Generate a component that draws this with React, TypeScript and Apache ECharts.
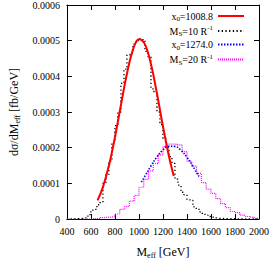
import React, { useEffect, useRef } from 'react';
import * as echarts from 'echarts';

// ---- data ----
const xTicks = [400, 600, 800, 1000, 1200, 1400, 1600, 1800, 2000];
const yTicks = [0, 0.0001, 0.0002, 0.0003, 0.0004, 0.0005, 0.0006];

// black histogram (M_S = 10 R^-1), 25 GeV bins from 400
const blackBinStart = 400;
const blackBinWidth = 25;
const blackHist = [
  0, 0, 0, 0.000001, 0.000001, 0.000002, 0.000003, 0.000012,
  0.000025, 0.000027, 0.00004, 0.000046, 0.0001, 0.000125, 0.000162, 0.000215,
  0.000262, 0.0003, 0.00038, 0.00042, 0.00046, 0.000465, 0.00049, 0.0005,
  0.000505, 0.000503, 0.00047, 0.000455, 0.000365, 0.000355, 0.0003, 0.000265,
  0.000225, 0.0002, 0.000175, 0.000156, 0.000112, 0.000095, 0.000075, 0.000068,
  0.000055, 0.000052, 0.000034, 0.00003, 0.00002, 0.000016, 0.000011, 0.000007,
  0.000005, 0.000003, 0.000002, 0.000002, 0.000001, 0.000001, 0.000001, 0.000001,
  0, 0, 0, 0, 0, 0, 0, 0,
];

// magenta histogram (M_S = 20 R^-1), 40 GeV bins from 400
const magentaBinStart = 400;
const magentaBinWidth = 40;
const magentaHist = [
  0, 0, 0, 0, 0, 0.000001, 0.000002, 0.000004, 0.000005, 0.000006,
  0.000014, 0.000027, 0.000035, 0.00005, 0.000066, 0.000089, 0.000111, 0.000135, 0.000155, 0.00018,
  0.000203, 0.00021, 0.00021, 0.000208, 0.000189, 0.000162, 0.000148, 0.000128, 0.000102, 0.000084,
  0.000072, 0.000057, 0.000043, 0.000032, 0.000021, 0.000018, 0.000011, 0.000007, 0.000005, 0.000002,
];

// red fit curve, x0 = 1008.8
const redFitX = [655, 700, 750, 800, 850, 900, 950, 1000, 1050, 1100, 1150, 1200, 1250, 1290];
const redFitY = [
  0.0000521, 0.0000895, 0.0001498, 0.000229, 0.0003196, 0.0004074, 0.0004743,
  0.0005043, 0.0004897, 0.0004343, 0.0003517, 0.0002602, 0.0001757, 0.0001203,
];

// blue fit curve, x0 = 1274.0
const blueFitX = [1020, 1050, 1100, 1150, 1200, 1250, 1300, 1350, 1400, 1450, 1500];
const blueFitY = [
  0.0001033, 0.0001203, 0.0001486, 0.0001741, 0.0001934, 0.0002038, 0.0002035,
  0.0001928, 0.0001732, 0.0001475, 0.0001192,
];

const legendNames = ['fit1', 'hist1', 'fit2', 'hist2'];
const legendLabels: Record<string, string> = {
  fit1: '{n|x}{s|0}{n|=1008.8}',
  hist1: '{n|M}{s|S}{n|=10 R}{p|-1}',
  fit2: '{n|x}{s|0}{n|=1274.0}',
  hist2: '{n|M}{s|S}{n|=20 R}{p|-1}',
};

const FONT = '"Liberation Serif", "DejaVu Serif", serif';

function histPoints(start: number, width: number, vals: number[]) {
  const pts: number[][] = [[start, vals[0]]];
  vals.forEach((v, i) => pts.push([start + width * (i + 0.5), v]));
  pts.push([start + width * vals.length, vals[vals.length - 1]]);
  return pts;
}

export default function App() {
  const ref = useRef<HTMLDivElement>(null);
  useEffect(() => {
    if (!ref.current) return;
    const chart = echarts.init(ref.current, undefined, { renderer: 'svg' });
    const rich = {
      n: { fontFamily: FONT, fontSize: 10, color: '#000', lineHeight: 13, verticalAlign: 'middle' as const },
      s: { fontFamily: FONT, fontSize: 7, color: '#000', lineHeight: 9, verticalAlign: 'bottom' as const },
      p: { fontFamily: FONT, fontSize: 7, color: '#000', lineHeight: 9, verticalAlign: 'top' as const },
    };
    const axisCommon = {
      type: 'value' as const,
      axisLine: { show: true, onZero: false, lineStyle: { color: '#000', width: 1 } },
      axisTick: { show: true, inside: true, length: 5, lineStyle: { color: '#000', width: 1 } },
      splitLine: { show: false },
    };
    chart.setOption({
      animation: false,
      backgroundColor: '#fff',
      grid: { left: 65, right: 14, top: 1, bottom: 54, containLabel: false },
      legend: {
        data: legendNames,
        orient: 'vertical',
        right: 23,
        top: 6,
        align: 'right',
        itemWidth: 26,
        itemHeight: 10,
        itemGap: 2,
        itemStyle: { opacity: 0 },
        formatter: (name: string) => legendLabels[name],
        textStyle: { fontFamily: FONT, fontSize: 10, color: '#000', rich },
      },
      xAxis: [
        {
          ...axisCommon,
          position: 'bottom',
          min: xTicks[0],
          max: xTicks[xTicks.length - 1],
          interval: 200,
          axisLabel: {
            show: true,
            margin: 7,
            fontFamily: FONT,
            fontSize: 10,
            color: '#000',
            formatter: (v: number) => String(v),
          },
          name: '{n|M}{s|eff}{n| [GeV]}',
          nameLocation: 'middle',
          nameGap: 25,
          nameTextStyle: {
            rich: {
              n: { fontFamily: FONT, fontSize: 12, color: '#000', lineHeight: 15, verticalAlign: 'middle' },
              s: { fontFamily: FONT, fontSize: 8, color: '#000', lineHeight: 10, verticalAlign: 'bottom' },
            },
          },
        },
        {
          ...axisCommon,
          position: 'top',
          min: xTicks[0],
          max: xTicks[xTicks.length - 1],
          interval: 200,
          axisLabel: { show: false },
        },
      ],
      yAxis: [
        {
          ...axisCommon,
          position: 'left',
          min: yTicks[0],
          max: yTicks[yTicks.length - 1],
          interval: 0.0001,
          axisLabel: {
            show: true,
            margin: 7,
            fontFamily: FONT,
            fontSize: 10,
            color: '#000',
            formatter: (v: number) => (v === 0 ? '0' : v.toFixed(4)),
          },
          name: '{n|dσ/dM}{s|eff}{n| [fb/GeV]}',
          nameLocation: 'middle',
          nameGap: 38,
          nameRotate: 90,
          nameTextStyle: {
            rich: {
              n: { fontFamily: FONT, fontSize: 12, color: '#000', lineHeight: 15, verticalAlign: 'middle' },
              s: { fontFamily: FONT, fontSize: 8, color: '#000', lineHeight: 10, verticalAlign: 'bottom' },
            },
          },
        },
        {
          ...axisCommon,
          position: 'right',
          min: yTicks[0],
          max: yTicks[yTicks.length - 1],
          interval: 0.0001,
          axisLabel: { show: false },
        },
      ],
      series: [
        {
          name: 'hist1',
          type: 'line',
          step: 'middle',
          symbol: 'none',
          data: histPoints(blackBinStart, blackBinWidth, blackHist),
          lineStyle: { color: '#000', width: 1.3, type: [1.3, 2.4] },
          itemStyle: { color: '#000' },
          z: 2,
        },
        {
          name: 'hist2',
          type: 'line',
          step: 'middle',
          symbol: 'none',
          data: histPoints(magentaBinStart, magentaBinWidth, magentaHist),
          lineStyle: { color: '#ff00ff', width: 1.2, type: [1, 1] },
          itemStyle: { color: '#ff00ff' },
          z: 3,
        },
        {
          name: 'fit2',
          type: 'line',
          smooth: 0.4,
          symbol: 'none',
          data: blueFitX.map((x, i) => [x, blueFitY[i]]),
          lineStyle: { color: '#0000ff', width: 1.6, type: [1.5, 1.5] },
          itemStyle: { color: '#0000ff' },
          z: 4,
        },
        {
          name: 'fit1',
          type: 'line',
          smooth: 0.4,
          symbol: 'none',
          data: redFitX.map((x, i) => [x, redFitY[i]]),
          lineStyle: { color: '#ff0000', width: 2 },
          itemStyle: { color: '#ff0000' },
          z: 5,
        },
      ],
    });
    return () => chart.dispose();
  }, []);
  return (
    <div
      ref={ref}
      style={{ position: 'fixed', left: 0, top: 0, width: 273, height: 273, background: '#fff' }}
    />
  );
}
